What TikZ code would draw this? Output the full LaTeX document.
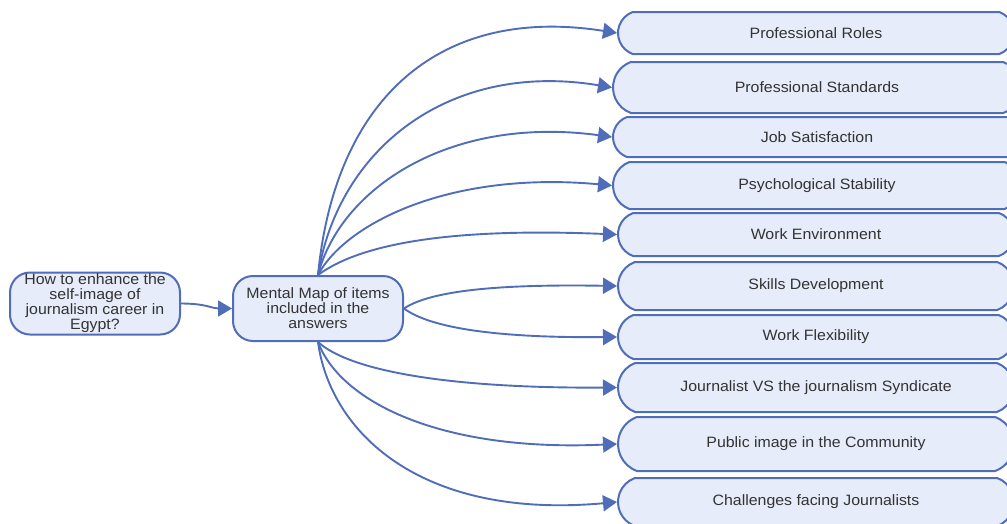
\documentclass[tikz,border=0pt]{standalone}
\usepackage{fontspec}
\setmainfont{Liberation Sans}[FakeStretch=1.06]
\usetikzlibrary{arrows.meta,shapes.misc}
\definecolor{edgeblue}{HTML}{4F6DB8}
\definecolor{boxfill}{HTML}{E6ECF9}
\definecolor{txt}{HTML}{333333}
\begin{document}
\begin{tikzpicture}[x=1pt,y=-1pt,
  box/.style={draw=edgeblue, line width=2pt, fill=boxfill, rounded corners=20pt, text=txt,
    font=\fontsize{15}{15}\selectfont, align=center, inner sep=0pt},
  item/.style={draw=edgeblue, line width=2pt, fill=boxfill, text=txt,
    font=\fontsize{15}{15}\selectfont, inner sep=0pt,
    rounded rectangle, rounded rectangle arc length=140},
  conn/.style={draw=edgeblue, line width=1.9pt, -{Triangle[length=14pt,width=16pt]}}
]
\useasboundingbox (0,0) rectangle (1007,523);
\clip (0,0) rectangle (1007,523);
\node[box, minimum width=170pt, minimum height=62pt] (q) at (95,303.5)
  {How to enhance the\\self-image of\\journalism career in\\Egypt?};
\node[box, minimum width=170pt, minimum height=65pt] (mid) at (318,308.5)
  {Mental Map of items\\included in the\\answers};
\node[item, minimum width=396pt, minimum height=42pt] (r1) at (816,33) {Professional Roles};
\node[item, minimum width=408pt, minimum height=51pt] (r2) at (817,87.5) {Professional Standards};
\node[item, minimum width=408pt, minimum height=40pt] (r3) at (817,137) {Job Satisfaction};
\node[item, minimum width=408pt, minimum height=47pt] (r4) at (817,185.5) {Psychological Stability};
\node[item, minimum width=396pt, minimum height=43pt] (r5) at (816,234.5) {Work Environment};
\node[item, minimum width=396pt, minimum height=48pt] (r6) at (816,286) {Skills Development};
\node[item, minimum width=396pt, minimum height=44pt] (r7) at (816,337) {Work Flexibility};
\node[item, minimum width=396pt, minimum height=49pt] (r8) at (816,387.5) {Journalist VS the journalism Syndicate};
\node[item, minimum width=396pt, minimum height=54pt] (r9) at (816,444) {Public image in the Community};
\node[item, minimum width=396pt, minimum height=48pt] (r10) at (816,502) {Challenges facing Journalists};
\draw[conn] (q.east) .. controls +(25,0) and +(-20,0) .. (mid.west);
\draw[conn] (mid.north) .. controls +(17,-176) and +(-178,-28) .. (r1.west);
\draw[conn] (mid.north) .. controls +(20,-126) and +(-163,-27) .. (r2.west);
\draw[conn] (mid.north) .. controls +(22,-86) and +(-163,-22) .. (r3.west);
\draw[conn] (mid.north) .. controls +(27,-51) and +(-163,-15) .. (r4.west);
\draw[conn] (mid.north) .. controls +(42,-31) and +(-168,-7) .. (r5.west);
\draw[conn] (mid.east) .. controls +(27,-18) and +(-118,-2) .. (r6.west);
\draw[conn] (mid.east) .. controls +(27,20) and +(-118,1) .. (r7.west);
\draw[conn] (mid.south) .. controls +(32,29) and +(-168,1) .. (r8.west);
\draw[conn] (mid.south) .. controls +(22,59) and +(-178,8) .. (r9.west);
\draw[conn] (mid.south) .. controls +(12,89) and +(-198,18) .. (r10.west);
\end{tikzpicture}
\end{document}
